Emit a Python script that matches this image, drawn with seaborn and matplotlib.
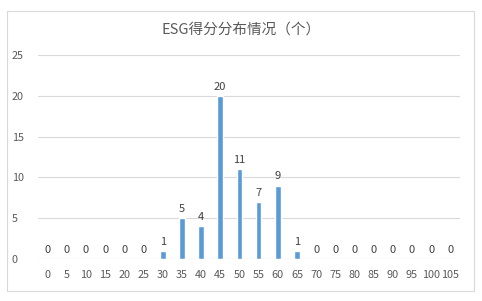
import matplotlib
matplotlib.use("Agg")
import matplotlib.pyplot as plt
import seaborn as sns
import pandas as pd
from matplotlib.patches import Rectangle

categories = [str(v) for v in range(0, 110, 5)]
counts = [0, 0, 0, 0, 0, 0, 1, 5, 4, 20, 11, 7, 9, 1, 0, 0, 0, 0, 0, 0, 0, 0]
yticks = [0, 5, 10, 15, 20, 25]
title = "ESG得分分布情况（个）"

sns.set_theme(style="white")
plt.rcParams['font.family'] = ['Noto Sans CJK SC', 'DejaVu Sans']

df = pd.DataFrame({"cat": categories, "n": counts})

fig = plt.figure(figsize=(4.82, 3.01), dpi=100)
fig.patches.append(Rectangle((7/482, 1 - 291/301), 467/482, 280/301, transform=fig.transFigure,
                             fill=False, edgecolor="#D9D9D9", linewidth=0.8))
ax = fig.add_axes([38/482, 42/301, 422/482, 204/301])
sns.barplot(data=df, x="cat", y="n", color="#5B9BD5", width=0.3, saturation=1, ax=ax)
ax.set_ylim(0, 25)
ax.set_yticks(yticks)
ax.set_xlim(-0.5, len(categories) - 0.5)
ax.grid(axis="y", color="#D9D9D9", linewidth=0.8)
ax.set_axisbelow(True)
for s in ax.spines.values():
    s.set_visible(False)
ax.axhline(0, color="#D9D9D9", linewidth=0.8)
ax.set_xlabel("")
ax.set_ylabel("")
ax.tick_params(axis="both", length=0, labelsize=7.8, colors="#595959")
ax.tick_params(axis="x", pad=8)
for lab in ax.get_yticklabels():
    lab.set_horizontalalignment("left")
ax.yaxis.set_tick_params(pad=19)
for c in ax.containers:
    ax.bar_label(c, fmt="%d", padding=3, fontsize=8, color="#404040")
fig.text(0.5, 1 - 30/301, title, ha="center", va="center", fontsize=10.5, color="#595959")
fig.savefig("out.png", dpi=100, facecolor="white")
